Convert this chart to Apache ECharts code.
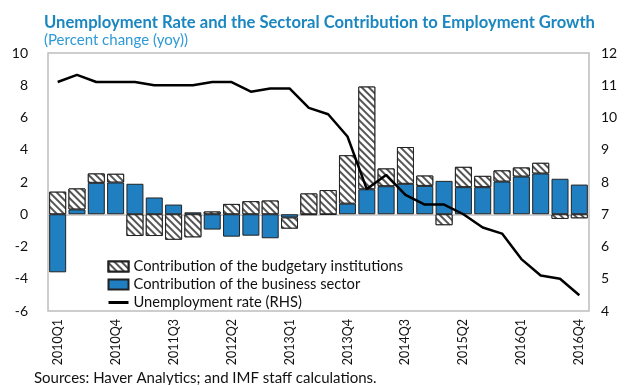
<!DOCTYPE html>
<html><head><meta charset="utf-8">
<script src="https://cdn.jsdelivr.net/npm/echarts@6/dist/echarts.min.js"></script>
<style>html,body{margin:0;padding:0;background:#fff}#c{width:625px;height:385px}</style>
</head><body><div id="c"></div>
<script>
const categories = ['2010Q1','2010Q2','2010Q3','2010Q4','2011Q1','2011Q2','2011Q3','2011Q4',
'2012Q1','2012Q2','2012Q3','2012Q4','2013Q1','2013Q2','2013Q3','2013Q4',
'2014Q1','2014Q2','2014Q3','2014Q4','2015Q1','2015Q2','2015Q3','2015Q4',
'2016Q1','2016Q2','2016Q3','2016Q4'];
const budgetary = [1.4,1.3,0.58,0.54,-1.35,-1.35,-1.58,-1.43,
0.17,0.64,0.81,0.85,-0.69,1.29,1.5,3.0,
6.37,1.1,2.28,0.64,-0.68,1.26,0.7,0.69,
0.56,0.66,-0.29,-0.25];
const business = [-3.6,0.3,1.95,1.97,1.89,1.04,0.6,0.12,
-0.95,-1.39,-1.33,-1.49,-0.2,-0.05,-0.03,0.66,
1.55,1.74,1.89,1.76,2.07,1.68,1.68,2.03,
2.34,2.53,2.2,1.84];
const unemployment = [11.1,11.32,11.1,11.1,11.1,11.0,11.0,11.0,
11.1,11.1,10.8,10.9,10.9,10.3,10.1,9.41,
7.78,8.22,7.6,7.3,7.3,7.0,6.59,6.4,
5.61,5.1,5.0,4.49];
const leftTicks = {min:-6,max:10,interval:2};
const rightTicks = {min:4,max:12,interval:1};

const chart = echarts.init(document.getElementById('c'), null, {renderer:'canvas'});
const F = 'Lato, "Open Sans", sans-serif';
chart.setOption({
  animation:false,
  textStyle:{fontFamily:F},
  title:[
    {text:'Unemployment Rate and the Sectoral Contribution to Employment Growth',
     left:39, top:9, textStyle:{fontFamily:F,fontSize:16.6,fontWeight:'bold',color:'#1b87c1'}},
    {text:'(Percent change (yoy))', left:39, top:28, textStyle:{fontFamily:F,fontSize:15,fontWeight:'normal',color:'#2e9ad6'}},
    {text:'Sources: Haver Analytics; and IMF staff calculations.', left:29, top:366,
     textStyle:{fontFamily:F,fontSize:15,fontWeight:'normal',color:'#111'}}
  ],
  grid:{left:48,right:36,top:53,bottom:74,show:true,borderColor:'#bdbdbd',borderWidth:1.5},
  legend:{
    orient:'vertical', left:102, top:254, itemWidth:20, itemHeight:10, itemGap:3,
    textStyle:{fontFamily:F,fontSize:14.7,color:'#111',lineHeight:15},
    data:[
      {name:'Contribution of the budgetary institutions', icon:'rect'},
      {name:'Contribution of the business sector', icon:'rect'},
      {name:'Unemployment rate (RHS)', itemStyle:{opacity:0}, lineStyle:{width:3,color:'#000'}}
    ]
  },
  xAxis:{type:'category',data:categories,
    axisLine:{show:false,onZero:false},
    axisTick:{show:false},
    axisLabel:{rotate:90,interval:2,fontSize:12.5,color:'#111',margin:8,fontFamily:F}
  },
  yAxis:[
    {type:'value',min:leftTicks.min,max:leftTicks.max,interval:leftTicks.interval,
     splitLine:{show:false},axisLine:{show:false},axisTick:{show:false},
     axisLabel:{fontSize:14,color:'#111',margin:20,fontFamily:F}},
    {type:'value',min:rightTicks.min,max:rightTicks.max,interval:rightTicks.interval,
     splitLine:{show:false},axisLine:{show:false},axisTick:{show:false},
     axisLabel:{fontSize:14,color:'#111',margin:12,fontFamily:F}}
  ],
  series:[
    {name:'Contribution of the business sector',type:'bar',stack:'s',data:business,
     barCategoryGap:'12%',
     itemStyle:{color:'#1f7fc0',borderColor:'#222',borderWidth:1},
     markLine:{silent:true,symbol:'none',label:{show:false},z:1,
       lineStyle:{color:'#c4c4c4',width:1.5,type:'solid'},data:[{yAxis:0}]}},
    {name:'Contribution of the budgetary institutions',type:'bar',stack:'s',data:budgetary,
     barCategoryGap:'12%',
     itemStyle:{color:'#ffffff',borderColor:'#222',borderWidth:1,
       decal:{symbol:'rect',symbolSize:1,dashArrayX:[1,0],dashArrayY:[2,3],rotation:Math.PI/4,color:'#555',backgroundColor:'#fff'}}},
    {name:'Unemployment rate (RHS)',type:'line',yAxisIndex:1,data:unemployment,
     symbol:'none',lineStyle:{color:'#000',width:2.5},itemStyle:{color:'#000'},z:5}
  ]
});
</script></body></html>
